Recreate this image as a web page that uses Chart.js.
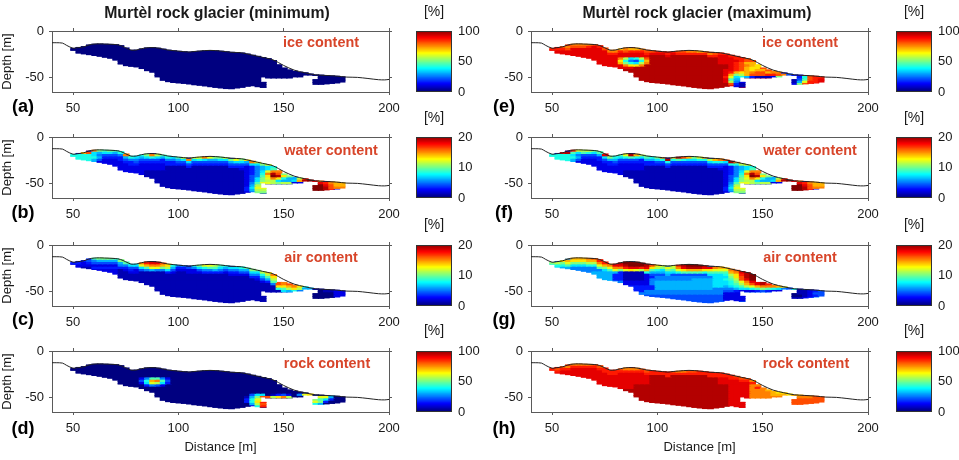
<!DOCTYPE html>
<html>
<head>
<meta charset="utf-8">
<style>
html,body{margin:0;padding:0;background:#fff;width:959px;height:460px;overflow:hidden}
canvas{position:absolute}
</style>
<script src="https://cdn.jsdelivr.net/npm/chart.js@4/dist/chart.umd.min.js"></script>
</head>
<body>
<script>
// Terrain profile across the rock glacier (distance, depth)
const surfaceX = [40,42,45,47,50,52,55,57.5,60,62.5,65,70,72.5,75,77.5,80,82.5,85,87.5,90,92.5,95,100,105,107.5,110,115,120,125,130,135,140,145,150,155,160,165,170,175,180,185,190,195,198,200];
const surfaceDepth = [12.6,12.6,13,15.5,18.5,18,17,15,14,13.8,14,14.5,15.5,18,20.5,20.4,19,18,17.8,18.2,19.2,20.4,21.6,22.6,22,21.5,20.8,21.5,22.8,23.4,25.8,28.3,31,37,42,44.8,47,47.7,48.4,49.5,49.8,51,52.3,52.5,52];

// Inversion columns: centre distance, upper and lower limit of the model body
const columnX = [50.25,52.75,55.25,57.75,60.25,62.75,65.25,67.75,70.25,72.75,75.25,77.75,80.25,82.75,85.25,87.75,90.25,92.75,95.25,97.75,100.25,102.75,105.25,107.75,110.25,112.75,115.25,117.75,120.25,122.75,125.25,127.75,130.25,132.75,135.25,137.75,140.25,142.75,145.25,147.75,150.25,152.75,155.25,157.75,160.25,162.75,165.25,167.75,170.25,172.75,175.25,177.75];
const columnTop = [18.5,17.5,16.5,15,14,13.8,14,14.2,14.5,15.5,18,20.5,20.4,19,18,17.8,18.2,19.2,20.4,21,21.6,22.1,22.6,22,21.5,21.1,20.8,21,21.5,22.2,22.8,23,23.4,24.5,25.8,27,28.3,29.5,31.5,36,39.5,41.5,43,44,44.8,46,47,47.2,47.7,48,48.4,49];
const columnBottom = [21,24,24.8,25.6,26.5,27.4,28.4,29.5,31.5,35.5,37.4,38,38.8,40.5,42.7,44.5,49.5,53,54.6,55.4,56,56.5,57.1,57.8,58.5,59.2,60,60.7,61.4,62,62.2,61.4,60.6,59.6,59,60,60.8,50.5,50.5,50.5,50.5,50.5,49.5,49.5,47.5,47.5,57.5,57.5,57,56.5,56,55];
// Unsampled pockets inside a column: column index, from depth, to depth
const columnGaps = [[36,49.5,55],[46,47.8,52]];
const layerStart = 12.5, layerStep = 2.5, layerCount = 20;

const xTicks = [50,100,150,200];
const yTicks = [0,-50];

// Cell codes: 0-9, a-k stand for 0 to 20 twentieths of the colour range; '.' no data, '-' leave as is
const iceMinBase = '0';

const iceMaxBase = 'i';
const iceMaxBlocks = [[9,19,16,33,'j'],[4,8,19,31,'j'],[11,19,13,15,'j']];
const iceMaxSkin = [
  'hhgfffffgh gffefeefgg hhhhggffef fghhhhhggg ggff323 2gh hh',
  'iihgggghii ihhhghhhhi iiiihhhhhh hhiiihhgff eegh------ --',
  '---------- ---------- ---------- ------hgfe edff------ --'
];
const iceMaxCells = [
  [6,13,'fb78bg'],[7,13,'d8548e'],[8,13,'ea87bf'],[9,14,'fddf'],
  [8,34,'ihgee'],[9,34,'ihgfedd'],[10,34,'ihgedd'],[11,33,'iihgedee'],
  [12,33,'ihedefgg'],[13,33,'ieabeggghhgf43'],
  [14,33,'hc78631112ad'],[14,46,'238ghh'],
  [15,33,'i963'],[15,46,'149ghi'],
  [16,33,'ib52'],[16,46,'16chhi'],
  [17,33,'jg31'],[17,46,'2agh'],
  [18,34,'i21']
];

const waterBase = '2';
const waterBlocks = [[9,19,14,32,'1'],[6,8,18,31,'1']];
const waterMinSkin = [
  'bcegfa9a98 f878afb987 9cfccfcaac acadfcacdb aaegjkifbb dd',
  '8889767765 6556787655 6777876677 6776776678 ---------- --',
  '8888654443 4344444333 4444444444 4444444455 ---------- --',
  '8866433333 3333333333 3333333333 3333333333 ---------- --'
];
const waterMaxSkin = [
  'dfijhcbca9 ia89cjeb98 afjejgeacf befgjfbcfd aaegjkifbb dd',
  '9aab979876 7667898766 7888987788 7887887789 ---------- --',
  '8888654443 4344444333 4444444444 4444444455 ---------- --',
  '8866433333 3333333333 3333333333 3333333333 ---------- --'
];
const waterCells = [
  [2,0,'88887'],[3,0,'888886'],[4,1,'88864'],[5,2,'776'],
  [7,33,'235678'],[8,33,'235679'],[9,33,'2357cff'],[10,33,'2358fjg'],
  [11,33,'2459dkjda'],[12,33,'247acfd866bh'],[13,33,'247abb7667ejk'],
  [14,33,'259ccbabb'],[14,46,'jihfee'],
  [15,33,'26bd'],[15,46,'kkigee'],
  [16,33,'37cc'],[16,46,'kkjgff'],
  [17,33,'36bb'],[17,46,'kkjh'],
  [18,34,'5aa']
];

const airMinBase = '1';
const airMinBlocks = [[0,6,0,8,'3'],[5,8,0,8,'2'],[14,18,46,49,'0'],[14,18,50,51,'2']];
const airMinSkin = [
  '33349aaa9a 977fhiigd8 5548accb98 7789aabdf. .gfd861111 22',
  '2223566666 544ceffeb6 3325789976 5566778bd. fedb64---- --',
  '2222444445 33279cca74 2222455654 33445569bg db85------ --',
  '1111222223 2224565532 1112233332 222233469d 963------- --',
  '---------- ---------- ---------- 1111122358 742------- --'
];
const airMinCells = [[8,39,'.'],[9,39,'.'],[10,39,'.']];

const airMaxBase = '5';
const airMaxBlocks = [
  [6,10,8,11,'6'],[5,9,12,13,'3'],[5,11,14,18,'2'],[6,9,14,17,'1'],[5,8,19,19,'3'],[12,14,15,19,'3'],
  [4,7,19,29,'4'],[8,9,21,29,'5'],[10,13,20,26,'6'],[9,13,27,30,'6'],[7,12,31,33,'7'],
  [14,15,18,32,'5'],[16,19,16,33,'4'],[15,18,33,36,'2']
];
const airMaxSkin = [
  'abdeeeefgh hfijkkkkjg dccchjkkkj ifeefgijkk .kjhfa8112 44',
  '88acdddeef ecfijkkkid baabfijjji dcccefhjk. jhfc76---- --',
  '7789aaabbc a9cfhiihe9 8779cdeeed 9999bdgjk. hea65----- --',
  '6666777889 766acdcb86 6667899998 7778adgik. gc74------ --'
];
const airMaxCells = [
  [8,39,'.'],[9,39,'.'],[10,39,'.'],
  [9,33,'89b'],[10,33,'78acfi'],[11,33,'789begijh'],[12,33,'6789bcefffeda'],
  [13,33,'5567789a98754'],[14,33,'44322234322'],
  [14,46,'111234'],[15,46,'011244'],[16,46,'001234'],[17,46,'1123']
];

const rockMinBase = '0';
const rockMinCells = [
  [6,13,'259952'],[7,13,'48ef94'],[8,13,'27cb73'],[9,14,'3542'],
  [13,34,'477'],[14,33,'16agg3'],[15,33,'38ch'],[16,33,'38dh'],[17,34,'6bg'],[18,34,'28h'],
  [13,38,'1342'],[14,38,'bdfb'],[13,43,'5cd'],
  [14,46,'bcc6'],[15,46,'a973'],[16,46,'ca3'],[17,46,'86']
];

const rockMaxBase = 'i';
const rockMaxBlocks = [[9,19,16,33,'j'],[4,8,19,31,'j'],[11,19,13,15,'j'],[9,19,38,45,'f'],[13,18,46,51,'g']];
const rockMaxSkin = [
  'hggfffffgg hhhgfffggh hhhgffgghh hhhhhgggff feedddeeff gg',
  'hhhhhhhhhh hhhhhhhhhh hhhhhhhhhh hhhhhhhhhh ffeeeeffgg gg'
];

const leftPanels = [
  {tag:'(a)', name:'ice content', range:100, base:iceMinBase},
  {tag:'(b)', name:'water content', range:20, base:waterBase, blocks:waterBlocks, skin:waterMinSkin, cells:waterCells},
  {tag:'(c)', name:'air content', range:20, base:airMinBase, blocks:airMinBlocks, skin:airMinSkin, cells:airMinCells},
  {tag:'(d)', name:'rock content', range:100, base:rockMinBase, cells:rockMinCells}
];
const rightPanels = [
  {tag:'(e)', name:'ice content', range:100, base:iceMaxBase, blocks:iceMaxBlocks, skin:iceMaxSkin, cells:iceMaxCells},
  {tag:'(f)', name:'water content', range:20, base:waterBase, blocks:waterBlocks, skin:waterMaxSkin, cells:waterCells},
  {tag:'(g)', name:'air content', range:20, base:airMaxBase, blocks:airMaxBlocks, skin:airMaxSkin, cells:airMaxCells},
  {tag:'(h)', name:'rock content', range:100, base:rockMaxBase, blocks:rockMaxBlocks, skin:rockMaxSkin}
];
const rowTops = [31,137,245,351];
const tagOffset = [76,76,75,78];
const nameAnchor = {'ice content':[269,12],'water content':[279,14],'air content':[269,13],'rock content':[275,13]};
const unitOffset = [-19,-19,-20,-20];

const FONT = '"Liberation Sans", Arial, sans-serif';
const INK = '#1a1a1a';
const AXIS = '#5a5a5a';
const PLOT_H = 61, PAD_TOP = 28;

// Classic rainbow colour ramp, t in 0..1
function jet(t){
  t = Math.max(0, Math.min(1, t));
  const c = v => Math.round(255 * Math.max(0, Math.min(1, v)));
  return `rgb(${c(Math.min(4*t-1.5, 4.5-4*t))},${c(Math.min(4*t-0.5, 3.5-4*t))},${c(Math.min(4*t+0.5, 2.5-4*t))})`;
}
const codeToFraction = ch => parseInt(ch, 36) / 20;

// Axis boxes keep a fixed size; tick labels may overhang the plot area
function fixBox(s, size, horizontal){
  if (horizontal) s.height = size; else s.width = size;
  s.paddingLeft = s.paddingRight = s.paddingTop = s.paddingBottom = 0;
}

// Expands a panel's base, blocks, skin and single-cell codes into a layer x column table
function buildCodes(p){
  const table = [];
  for (let r = 0; r < layerCount; r++) table.push(new Array(columnX.length).fill(p.base));
  (p.blocks || []).forEach(([r0,r1,c0,c1,code]) => {
    for (let r = r0; r <= r1; r++) for (let c = c0; c <= c1; c++) table[r][c] = code;
  });
  (p.skin || []).forEach((line, k) => {
    const codes = line.replace(/ /g,'');
    columnX.forEach((_, c) => {
      const first = Math.floor((columnTop[c] - layerStart) / layerStep);
      const r = first + k;
      if (r < layerCount && codes[c] && codes[c] !== '-') table[r][c] = codes[c];
    });
  });
  (p.cells || []).forEach(([r, c0, codes]) => {
    [...codes].forEach((ch, i) => { if (ch !== '-') table[r][c0 + i] = ch; });
  });
  return table;
}

// One floating-bar dataset per layer, clipped to the body outline of each column
function layerDatasets(p){
  const table = buildCodes(p);
  const sets = [];
  for (let r = 0; r < layerCount; r++){
    const rowTop = layerStart + r * layerStep, rowBot = rowTop + layerStep;
    const data = [];
    columnX.forEach((x, c) => {
      const code = table[r][c];
      if (code === '.') return;
      let pieces = [[Math.max(rowTop, columnTop[c]), Math.min(rowBot + 0.4, columnBottom[c])]];
      columnGaps.filter(g => g[0] === c).forEach(([, g0, g1]) => {
        pieces = pieces.flatMap(([a,b]) => [[a, Math.min(b, g0)], [Math.max(a, g1), b]]);
      });
      pieces.forEach(([a,b]) => {
        if (a < b) data.push({x, y:[-b, -a], v: codeToFraction(code) * p.range});
      });
    });
    sets.push({
      type:'bar', data, order:2, barThickness:6, grouped:false, borderWidth:0, borderSkipped:false,
      backgroundColor: ctx => ctx.raw ? jet(ctx.raw.v / p.range) : 'rgba(0,0,0,0)'
    });
  }
  return sets;
}

// Free text placed relative to the plot area
const annotationPlugin = {
  id:'annotations',
  afterDraw(chart, args, opts){
    const {ctx, chartArea} = chart;
    (opts.items || []).forEach(it => {
      ctx.save();
      ctx.font = it.font;
      ctx.fillStyle = it.color;
      ctx.textAlign = 'center';
      ctx.textBaseline = 'middle';
      ctx.fillText(it.text, chartArea.left + it.x, chartArea.top + it.y);
      ctx.restore();
    });
    if (opts.frame){
      ctx.save();
      ctx.strokeStyle = '#333';
      ctx.lineWidth = 1;
      ctx.strokeRect(Math.round(chartArea.left)+0.5, Math.round(chartArea.top)+0.5, Math.round(chartArea.width)-1, Math.round(chartArea.height)-1);
      ctx.restore();
    }
  }
};
Chart.register(annotationPlugin);

function addCanvas(left, top, w, h){
  const cv = document.createElement('canvas');
  cv.width = w; cv.height = h;
  cv.style.left = left + 'px'; cv.style.top = top + 'px';
  cv.style.width = w + 'px'; cv.style.height = h + 'px';
  document.body.appendChild(cv);
  return cv;
}

function drawPanel(p, rowIndex, left, plotW, padLeft, padRight, title, yTitle){
  const top = rowTops[rowIndex];
  const last = rowIndex === 3;
  const padBottom = last ? 47 : 30;
  const cv = addCanvas(left, top - PAD_TOP, padLeft + plotW + padRight, PAD_TOP + PLOT_H + padBottom);
  const items = [
    {text:p.name, x:nameAnchor[p.name][0], y:nameAnchor[p.name][1], font:`bold 14.4px ${FONT}`, color:'#d8452a'},
    {text:p.tag, x:(left === 0 ? 23 : 504) - (left + padLeft), y:tagOffset[rowIndex], font:`bold 18px ${FONT}`, color:'#000'}
  ];
  if (title) items.push({text:title.text, x:title.x, y:-17.5, font:`bold 15.8px ${FONT}`, color:INK});
  const line = {
    type:'line', order:1, data:surfaceX.map((x,i) => ({x, y:-surfaceDepth[i]})),
    borderColor:'#222', borderWidth:1, pointRadius:0, tension:0.3, fill:false
  };
  const gridOpts = {drawOnChartArea:false, tickLength:3, color:AXIS, offset:false};
  const border = {color:AXIS, width:1};
  const xRange = {type:'linear', min:40, max:200, offset:false, afterBuildTicks:s => { s.ticks = xTicks.map(value => ({value})); }};
  const yRange = {type:'linear', min:-65.5, max:0, afterBuildTicks:s => { s.ticks = yTicks.map(value => ({value})); }};
  new Chart(cv, {
    type:'bar',
    data:{datasets:[line, ...layerDatasets(p)]},
    options:{
      responsive:false, animation:false, devicePixelRatio:1,
      events:[],
      layout:{padding:0, autoPadding:false},
      plugins:{legend:{display:false}, tooltip:{enabled:false}, annotations:{items}},
      scales:{
        x:{...xRange, position:'bottom', border, grid:gridOpts,
          ticks:{autoSkip:false, maxRotation:0, padding:6, color:INK, font:{family:FONT,size:13}, callback:v => String(v)},
          title:{display:last, text:'Distance [m]', color:INK, font:{family:FONT,size:13}, padding:{top:0,bottom:4}},
          afterFit:s => fixBox(s, padBottom, true)},
        xTop:{...xRange, axis:'x', position:'top', border, grid:gridOpts, ticks:{display:false},
          afterFit:s => fixBox(s, PAD_TOP, true)},
        y:{...yRange, position:'left', border, grid:gridOpts,
          ticks:{autoSkip:false, padding:5, color:INK, font:{family:FONT,size:13}, callback:v => String(v)},
          title:{display:yTitle, text:'Depth [m]', color:INK, font:{family:FONT,size:13}, padding:{top:0,bottom:0}},
          afterFit:s => fixBox(s, padLeft, false)},
        yRight:{...yRange, axis:'y', position:'right', border, grid:gridOpts, ticks:{display:false},
          afterFit:s => fixBox(s, padRight, false)}
      }
    }
  });
}

// Vertical colour scale with its ticks and unit label
function drawColorbar(range, rowIndex, left){
  const top = rowTops[rowIndex];
  const cv = addCanvas(left - 4, top - PAD_TOP, 74, PAD_TOP + PLOT_H + 10);
  const levels = 64, step = range / levels;
  const sets = [];
  for (let i = 0; i < levels; i++){
    sets.push({data:[[i*step, Math.min(range, (i+1.5)*step)]], backgroundColor:jet((i+0.5)/levels),
      borderWidth:0, borderSkipped:false, grouped:false, barPercentage:1, categoryPercentage:1});
  }
  new Chart(cv, {
    type:'bar',
    data:{labels:['%'], datasets:sets},
    options:{
      responsive:false, animation:false, devicePixelRatio:1, events:[],
      layout:{padding:{left:4, top:PAD_TOP, bottom:10, right:0}, autoPadding:false},
      plugins:{legend:{display:false}, tooltip:{enabled:false},
        annotations:{frame:true, items:[{text:'[%]', x:18, y:unitOffset[rowIndex], font:`14px ${FONT}`, color:INK}]}},
      scales:{
        x:{display:false},
        y:{type:'linear', position:'right', min:0, max:range,
          afterBuildTicks:s => { s.ticks = [0, range/2, range].map(value => ({value})); },
          border:{display:false}, grid:{drawOnChartArea:false, drawTicks:false},
          ticks:{padding:6, color:INK, font:{family:FONT,size:13}, callback:v => String(v)},
          afterFit:s => fixBox(s, 34, false)}
      }
    }
  });
}

leftPanels.forEach((p,i) => {
  drawPanel(p, i, 0, 337, 52, 11, i === 0 ? {text:'Murtèl rock glacier (minimum)', x:165} : null, true);
  drawColorbar(p.range, i, 416);
});
rightPanels.forEach((p,i) => {
  drawPanel(p, i, 480, 337, 51, 12, i === 0 ? {text:'Murtèl rock glacier (maximum)', x:166} : null, false);
  drawColorbar(p.range, i, 896);
});
</script>
</body>
</html>
